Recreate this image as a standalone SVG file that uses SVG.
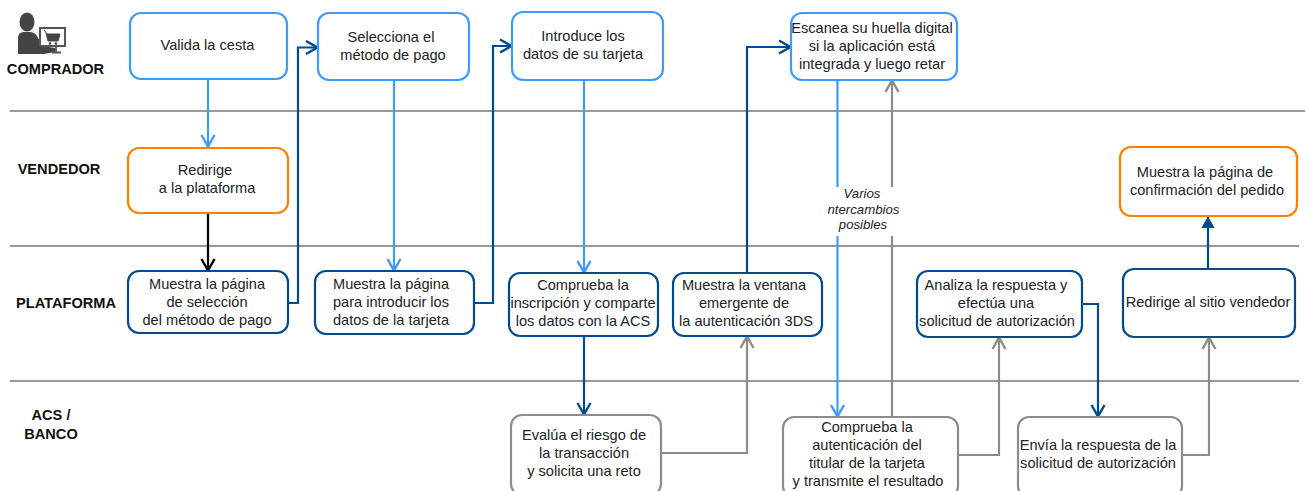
<svg xmlns="http://www.w3.org/2000/svg" width="1307" height="491" viewBox="0 0 1307 491">
<defs>
<style>
text{font-family:"Liberation Sans",Arial,sans-serif;font-size:14.6px;fill:#222;text-anchor:middle}
.lane{font-weight:bold;fill:#111}
.note{font-style:italic;font-size:13.2px}
.box{fill:#fff;stroke-width:2.2}
.lb{stroke:#3d9bff}.db{stroke:#004a8f}.or{stroke:#ff8000}.gr{stroke:#8c8c8c}.bk{stroke:#000}
.c{fill:none;stroke-width:2.2}
.sep{stroke:#999;stroke-width:2.2;fill:none}
</style>
<marker id="aL" markerUnits="userSpaceOnUse" markerWidth="16" markerHeight="16" refX="13" refY="8" orient="auto"><path d="M1 1.500L12.500 8L1 14.500" fill="none" stroke="#3d9bff" stroke-width="2.4"/></marker>
<marker id="aD" markerUnits="userSpaceOnUse" markerWidth="16" markerHeight="16" refX="13" refY="8" orient="auto"><path d="M1 1.500L12.500 8L1 14.500" fill="none" stroke="#004a8f" stroke-width="2.4"/></marker>
<marker id="aG" markerUnits="userSpaceOnUse" markerWidth="16" markerHeight="16" refX="13" refY="8" orient="auto"><path d="M1 1.500L12.500 8L1 14.500" fill="none" stroke="#8c8c8c" stroke-width="2.4"/></marker>
<marker id="aK" markerUnits="userSpaceOnUse" markerWidth="16" markerHeight="16" refX="13" refY="8" orient="auto"><path d="M1 1.500L12.500 8L1 14.500" fill="none" stroke="#000" stroke-width="2.4"/></marker>
<marker id="aF" markerUnits="userSpaceOnUse" markerWidth="16" markerHeight="16" refX="13" refY="7" orient="auto"><path d="M1 0.500L13 7L1 13.500Z" fill="#004a8f"/></marker>
<clipPath id="noteClip"><rect x="828" y="186" width="72" height="50"/></clipPath>
</defs>
<rect width="1307" height="491" fill="#fff"/>
<g id="lanes">
<path class="sep" d="M10 111H1305M10 246H1299M10 381H1299"/>
</g>
<g id="connectors">
<path class="c lb" marker-end="url(#aL)" d="M208 79V147"/>
<path class="c bk" marker-end="url(#aK)" d="M208 213V271"/>
<path class="c db" marker-end="url(#aD)" d="M288 303H298V47.500H318"/>
<path class="c lb" marker-end="url(#aL)" d="M394 80V271"/>
<path class="c db" marker-end="url(#aD)" d="M474 303H493V46H512"/>
<path class="c lb" marker-end="url(#aL)" d="M584 80V273"/>
<path class="c db" marker-end="url(#aD)" d="M584 336V415"/>
<path class="c gr" marker-end="url(#aG)" d="M661 453H747V336"/>
<path class="c db" marker-end="url(#aD)" d="M747 273V47H791"/>
<path class="c lb" marker-end="url(#aL)" d="M837.500 80V417"/>
<path class="c gr" marker-end="url(#aG)" d="M892 417V80"/>
<path class="c gr" marker-end="url(#aG)" d="M958 455H999V337"/>
<path class="c db" marker-end="url(#aD)" d="M1082 304H1098V417"/>
<path class="c gr" marker-end="url(#aG)" d="M1182 455H1209V337"/>
<path class="c db" marker-end="url(#aF)" d="M1208 269V216"/>
</g>
<g id="note">
<rect x="828" y="187" width="72" height="49" fill="#fff"/>
<g clip-path="url(#noteClip)">
<text class="note" x="862" y="198">Varios</text>
<text class="note" x="862" y="214">intercambios</text>
<text class="note" x="863" y="229">posibles</text>
</g>
</g>
<g id="icon-comprador">
<ellipse cx="27" cy="22" rx="7.500" ry="9.500" fill="#444"/>
<path d="M18 54V38Q18 32 24 32H31Q36 33 38 38L43 46L55 48V52L44 54Z" fill="#444"/>
<rect x="40" y="28" width="25" height="18" fill="#fff" stroke="#555" stroke-width="2"/>
<path d="M44 30L47 34H60L58 41H48L46 33" fill="#444" stroke="#444"/>
<circle cx="50" cy="43.500" r="1.300" fill="#444"/><circle cx="56" cy="43.500" r="1.300" fill="#444"/>
<path d="M56 47V52M52 52.500H61" stroke="#555" stroke-width="1.800" fill="none"/>
</g>
<g id="lane-comprador"><text class="lane" x="55.500" y="74">COMPRADOR</text></g>
<g id="lane-vendedor"><text class="lane" x="59" y="173.500">VENDEDOR</text></g>
<g id="lane-plataforma"><text class="lane" x="66" y="307.500">PLATAFORMA</text></g>
<g id="lane-acs"><text class="lane" x="51" y="420">ACS /</text><text class="lane" x="51" y="439">BANCO</text></g>
<g id="n1"><rect class="box lb" x="130" y="13" width="157" height="66" rx="11"/><text x="207.500" y="50">Valida la cesta</text></g>
<g id="n2"><rect class="box lb" x="318" y="13" width="151" height="67" rx="11"/><text x="391" y="42">Selecciona el</text><text x="393" y="60">método de pago</text></g>
<g id="n3"><rect class="box lb" x="512" y="12" width="151" height="68" rx="11"/><text x="583" y="41">Introduce los</text><text x="583" y="59">datos de su tarjeta</text></g>
<g id="n4"><rect class="box lb" x="791" y="13" width="166" height="67" rx="11"/><text x="872" y="33">Escanea su huella digital</text><text x="872" y="51">si la aplicación está</text><text x="872" y="69">integrada y luego retar</text></g>
<g id="n5"><rect class="box or" x="128" y="148" width="160" height="65" rx="11"/><text x="205" y="175">Redirige</text><text x="207" y="193">a la plataforma</text></g>
<g id="n6"><rect class="box or" x="1120" y="147" width="177" height="69" rx="11"/><text x="1205" y="177">Muestra la página de</text><text x="1207" y="195">confirmación del pedido</text></g>
<g id="n7"><rect class="box db" x="128" y="271" width="160" height="62" rx="11"/><text x="207" y="289">Muestra la página</text><text x="207" y="307">de selección</text><text x="207" y="325">del método de pago</text></g>
<g id="n8"><rect class="box db" x="315" y="271" width="159" height="63" rx="11"/><text x="391" y="289">Muestra la página</text><text x="391" y="307">para introducir los</text><text x="391" y="325">datos de la tarjeta</text></g>
<g id="n9"><rect class="box db" x="509" y="273" width="149" height="63" rx="11"/><text x="583" y="290">Comprueba la</text><text x="583" y="308">inscripción y comparte</text><text x="583" y="326">los datos con la ACS</text></g>
<g id="n10"><rect class="box db" x="673" y="273" width="149" height="63" rx="11"/><text x="744" y="290">Muestra la ventana</text><text x="744" y="308">emergente de</text><text x="746" y="326">la autenticación 3DS</text></g>
<g id="n11"><rect class="box db" x="917" y="271" width="165" height="66" rx="11"/><text x="996" y="290">Analiza la respuesta y</text><text x="996" y="308">efectúa una</text><text x="997" y="326">solicitud de autorización</text></g>
<g id="n12"><rect class="box db" x="1123" y="269" width="172" height="68" rx="11"/><text x="1208" y="307">Redirige al sitio vendedor</text></g>
<g id="n13"><rect class="box gr" x="511" y="415" width="150" height="80" rx="11"/><text x="584" y="440">Evalúa el riesgo de</text><text x="584" y="458">la transacción</text><text x="584" y="476">y solicita una reto</text></g>
<g id="n14"><rect class="box gr" x="783" y="417" width="175" height="80" rx="11"/><text x="867" y="432">Comprueba la</text><text x="867" y="450">autenticación del</text><text x="867" y="468">titular de la tarjeta</text><text x="868" y="486">y transmite el resultado</text></g>
<g id="n15"><rect class="box gr" x="1018" y="417" width="164" height="80" rx="11"/><text x="1098" y="450">Envía la respuesta de la</text><text x="1098" y="468">solicitud de autorización</text></g>
</svg>
